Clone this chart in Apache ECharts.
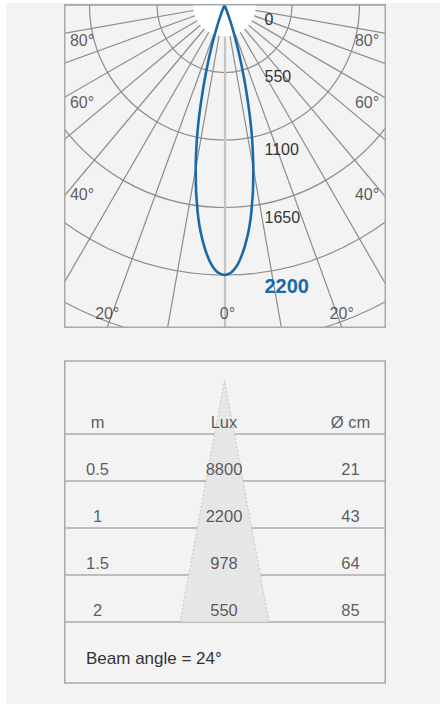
<!DOCTYPE html>
<html><head><meta charset="utf-8">
<script src="https://cdn.jsdelivr.net/npm/echarts@6/dist/echarts.min.js"></script>
<style>
html,body{margin:0;padding:0;background:#fff;width:440px;height:704px;overflow:hidden;}
#page{position:absolute;left:6px;top:3px;width:434px;height:701px;background:#f3f3f3;}
#main{position:absolute;left:0;top:0;width:440px;height:704px;}
#polar{position:absolute;left:64px;top:4px;width:322px;height:324px;overflow:hidden;}
</style></head><body>
<div id="page"></div><div id="main"></div><div id="polar"></div>
<script>
// ---- polar photometric data ----
const lobeAngles = [0,1,2,3,4,5,6,7,8,9,10,11,12,13,14,15,16,17,18,19,20,21,22,23,24];
const lobeLux    = [2200,2190,2160,2110,2040,1955,1860,1750,1620,1490,1350,1205,1060,905,750,610,485,375,275,190,120,65,28,8,0];
const radiusInterval = 550;
const radiusMax = 3300;
const radiusLabelMax = 2200;
const peakLux = 2200;
const angleLabelValues = [80, 60, 40, 20, 0];

// ---- table data ----
const tableHeaders = ['m', 'Lux', 'Ø cm'];
const distances = ['0.5', '1', '1.5', '2'];
const luxValues = [8800, 2200, 978, 550];
const diameters = [21, 43, 64, 85];
const beamAngle = 24;

const FONT = "'Liberation Sans', Arial, sans-serif";
const TXT = '#333333';
const BLUE = '#1769aa';

// ---------------- polar chart ----------------
const pc = echarts.init(document.getElementById('polar'), null, {renderer: 'svg'});
const PW = 322, PH = 324;
const cx = 160.5, cy = 1;
const outerPx = 405;
const pxPerUnit = outerPx / radiusMax;
const halfW = 160.5, boxH = 322;
const sideLabelShift = {80: 7, 60: 5, 40: -2};

// lobe: right side (360 - a) then left side (a)
const lobeData = [];
for (let i = lobeAngles.length - 1; i >= 1; i--) lobeData.push([lobeLux[i], 360 - lobeAngles[i]]);
for (let i = 0; i < lobeAngles.length; i++) lobeData.push([lobeLux[i], lobeAngles[i]]);

// angle tick labels placed where each spoke meets the frame
const angleLabelData = [];
angleLabelValues.forEach(a => {
  const sides = a === 0 ? [1] : [1, -1];
  sides.forEach(s => {
    const rad = a * Math.PI / 180;
    const dSide = Math.sin(rad) > 1e-6 ? halfW / Math.sin(rad) : Infinity;
    const dBot = boxH / Math.cos(rad);
    const onSide = dSide < dBot;
    const d = Math.min(dSide, dBot);
    angleLabelData.push({
      value: [d / pxPerUnit, s > 0 ? a : 360 - a],
      label: {offset: onSide ? [s > 0 ? 18 : -18, sideLabelShift[a] || 4] : [a === 0 ? 3 : 0, -14]},
      name: a + '°'
    });
  });
});

const spokeColors = [];
for (let i = 0; i < 36; i++) spokeColors.push(i === 0 ? 'rgba(0,0,0,0)' : '#8c8c8c');

pc.setOption({
  animation: false,
  polar: {center: [cx, cy], radius: outerPx},
  angleAxis: {
    type: 'value', min: 0, max: 360, interval: 10, startAngle: 270, clockwise: true,
    axisLine: {show: false}, axisTick: {show: false}, axisLabel: {show: false},
    splitLine: {show: true, lineStyle: {color: spokeColors, width: 1.2}}
  },
  radiusAxis: {
    type: 'value', min: 0, max: radiusMax, interval: radiusInterval,
    axisLine: {show: true, lineStyle: {color: '#c4c4c4', width: 2.2}},
    axisTick: {show: false},
    splitLine: {show: true, lineStyle: {color: '#8c8c8c', width: 1.2}},
    axisLabel: {
      show: true, margin: 40, align: 'left', verticalAlign: 'middle',
      fontFamily: FONT, fontSize: 16, color: TXT,
      formatter: v => {
        if (v > radiusLabelMax) return '';
        if (v === peakLux) return '{b|' + v + '}';
        if (v === 0) return '{z|' + v + '}';
        if (v === radiusInterval) return '{f|' + v + '}';
        return '{n|' + v + '}';
      },
      rich: {
        b: {color: BLUE, fontWeight: 'bold', fontSize: 20, fontFamily: FONT, padding: [21, 0, 0, 0]},
        z: {fontSize: 16, fontFamily: FONT, color: TXT, padding: [28, 0, 0, 0]},
        f: {fontSize: 16, fontFamily: FONT, color: TXT, padding: [8, 0, 0, 0]},
        n: {fontSize: 16, fontFamily: FONT, color: TXT, padding: [19, 0, 0, 0]}
      }
    }
  },
  graphic: {elements: [
    {type: 'rect', shape: {x: 0.75, y: 0.75, width: PW - 1.5, height: PH - 1.5},
     style: {fill: 'none', stroke: '#a9a9a9', lineWidth: 1.5}, z: 20}
  ]},
  series: [
    {
      // white hub at the pole that hides where the spokes converge
      type: 'scatter', coordinateSystem: 'polar', data: [[0, 0]], symbol: 'circle',
      symbolSize: 63, z: 5, silent: true, clip: false,
      itemStyle: {color: '#ffffff', opacity: 1, borderWidth: 0}
    },
    {
      type: 'line', coordinateSystem: 'polar', data: lobeData, smooth: true,
      symbol: 'none', z: 8, clip: false,
      lineStyle: {color: BLUE, width: 2.6}
    },
    {
      type: 'scatter', coordinateSystem: 'polar', data: angleLabelData, symbolSize: 1, z: 9,
      clip: false,
      itemStyle: {color: 'rgba(0,0,0,0)'},
      label: {show: true, position: 'inside', formatter: p => p.name,
        fontFamily: FONT, fontSize: 16, color: TXT}
    }
  ]
});

// ---------------- table chart ----------------
const mc = echarts.init(document.getElementById('main'), null, {renderer: 'svg'});
const rows = [tableHeaders];
distances.forEach((d, i) => rows.push([d, String(luxValues[i]), String(diameters[i])]));
const cellData = [];
rows.forEach((r, ri) => r.forEach((t, ci) => cellData.push([ci, ri + 0.5, t])));
const lineColors = ['rgba(0,0,0,0)'];
for (let i = 0; i < rows.length; i++) lineColors.push('#bdbdbd');

mc.setOption({
  animation: false,
  title: {text: 'Beam angle = ' + beamAngle + '°', left: 86, top: 650, padding: 0,
    textStyle: {fontFamily: FONT, fontSize: 17, fontWeight: 'normal', color: TXT}},
  grid: {left: 64, top: 387, width: 321, height: 235},
  xAxis: {type: 'value', min: -0.265, max: 2.273, show: false},
  yAxis: {type: 'value', min: 0, max: rows.length, interval: 1, inverse: true,
    axisLine: {show: false}, axisTick: {show: false}, axisLabel: {show: false},
    splitLine: {show: true, lineStyle: {color: lineColors, width: 2}}},
  graphic: {elements: [
    {type: 'polygon', shape: {points: [[224.5, 380], [180, 622], [269, 622]]},
     style: {fill: '#e6e6e6', stroke: '#bcbcbc', lineWidth: 0.8, lineDash: [2, 2]}, z: 1},
    {type: 'rect', shape: {x: 64.75, y: 361, width: 320.5, height: 322},
     style: {fill: 'none', stroke: '#a9a9a9', lineWidth: 1.5}, z: 10}
  ]},
  series: [{
    type: 'scatter', data: cellData, symbolSize: 1, z: 5,
    itemStyle: {color: 'rgba(0,0,0,0)'},
    label: {show: true, position: 'inside', offset: [0, 11], formatter: p => p.value[2],
      fontFamily: FONT, fontSize: 16.5, color: TXT}
  }]
});
</script>
</body></html>
